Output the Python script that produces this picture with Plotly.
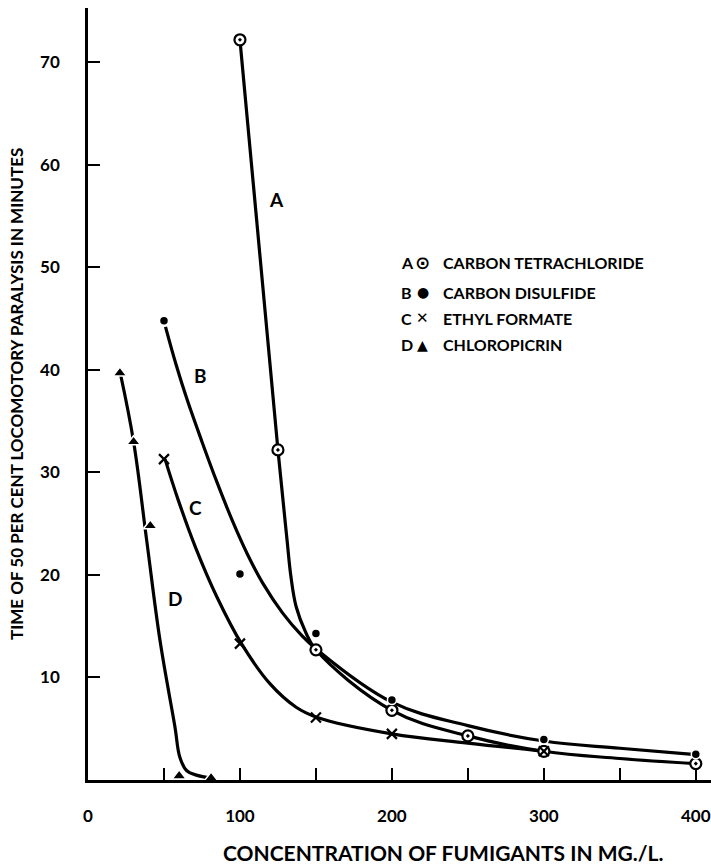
import plotly.graph_objects as go

# Observed points: concentration (mg/L) vs. time to 50% paralysis (min)
a_x = [100, 125, 150, 200, 250, 300, 400]
a_y = [72.2, 32.2, 12.7, 6.8, 4.3, 2.8, 1.6]
b_x = [50, 100, 150, 200, 300, 400]
b_y = [44.8, 20.1, 14.3, 7.8, 3.95, 2.5]
c_x = [50, 100, 150, 200, 300]
c_y = [31.3, 13.3, 6.1, 4.5, 2.8]
d_x = [21, 30, 41, 60, 81]
d_y = [39.7, 33.0, 24.8, 0.4, 0.2]

# Hand-drawn smooth curves through each set of points
a_curve_x = [100, 125, 131, 133.5, 137, 143, 150, 200, 250, 300, 350, 400]
a_curve_y = [72.2, 32.2, 23.4, 19.9, 16.9, 14.5, 12.7, 6.8, 4.3, 2.8, 2.1, 1.6]
b_curve_x = [51, 58, 65, 75, 85, 95, 105, 115, 128, 140, 150, 200, 250, 300, 350, 398]
b_curve_y = [44.2, 40.5, 37.2, 33.0, 29.0, 25.3, 22.0, 19.2, 16.3, 14.2, 12.8,
             7.6, 5.3, 3.8, 3.1, 2.5]
c_curve_x = [50.7, 59.4, 71, 85, 101, 119.7, 137, 150.9, 200, 250, 300]
c_curve_y = [31.3, 27.3, 22.6, 17.8, 13.3, 9.4, 7.1, 6.1, 4.5, 3.6, 2.8]
d_curve_x = [21.5, 30, 38.6, 47.4, 57.2, 60.5, 65, 72, 80]
d_curve_y = [39.5, 33.0, 23.4, 13.6, 5.2, 2.2, 0.9, 0.45, 0.2]

curve_letters = ["A", "B", "C", "D"]
curve_letter_x = [124, 74, 71, 57.2]
curve_letter_y = [56.6, 39.5, 26.6, 17.7]

legend_letters = ["A", "B", "C", "D"]
legend_symbols = ["\u2299", "\u25cf", "\u2715", "\u25b2"]
legend_symbol_sizes = [18, 14, 15, 14]
legend_names = ["CARBON TETRACHLORIDE", "CARBON DISULFIDE", "ETHYL FORMATE", "CHLOROPICRIN"]

x_tick_vals = [0, 50, 100, 150, 200, 250, 300, 350, 400]
x_tick_text = ["0", "", "100", "", "200", "", "300", "", "400"]
y_tick_vals = [10, 20, 30, 40, 50, 60, 70]

FONT = "Lato"
INK = "black"

fig = go.Figure()

for cx, cy in [(a_curve_x, a_curve_y), (b_curve_x, b_curve_y),
               (c_curve_x, c_curve_y), (d_curve_x, d_curve_y)]:
    fig.add_trace(go.Scatter(
        x=cx, y=cy, mode="lines",
        line=dict(color=INK, width=3.2, shape="spline", smoothing=1.1),
        hoverinfo="skip", showlegend=False))

# Markers
fig.add_trace(go.Scatter(
    x=a_x, y=a_y, mode="markers", showlegend=False,
    marker=dict(symbol="circle-dot", size=11, color="white",
                line=dict(color=INK, width=2.2))))
fig.add_trace(go.Scatter(
    x=b_x, y=b_y, mode="markers", showlegend=False,
    marker=dict(symbol="circle", size=9, color=INK,
                line=dict(color="white", width=1.5))))
fig.add_trace(go.Scatter(
    x=c_x, y=c_y, mode="markers", showlegend=False,
    marker=dict(symbol="x-thin", size=10, color=INK,
                line=dict(color=INK, width=2.2))))
fig.add_trace(go.Scatter(
    x=d_x, y=d_y, mode="markers", showlegend=False,
    marker=dict(symbol="triangle-up", size=12, color=INK,
                line=dict(color="white", width=1.5))))

annotations = []
for t, x, y in zip(curve_letters, curve_letter_x, curve_letter_y):
    annotations.append(dict(x=x, y=y, xref="x", yref="y", text=t, showarrow=False,
                            font=dict(family=FONT, size=19, color=INK, weight="bold")))

legend_rows_y = [0.6697, 0.6321, 0.5984, 0.5635]
for letter, sym, ssize, name, py in zip(legend_letters, legend_symbols, legend_symbol_sizes,
                                        legend_names, legend_rows_y):
    annotations.append(dict(x=0.4992, y=py, xref="paper", yref="paper", text=letter,
                            xanchor="left", yanchor="middle", showarrow=False,
                            font=dict(family=FONT, size=16, color=INK, weight="bold")))
    annotations.append(dict(x=0.5377, y=py, xref="paper", yref="paper", text=sym,
                            xanchor="center", yanchor="middle", showarrow=False,
                            font=dict(family="DejaVu Sans", size=ssize, color=INK,
                                      weight="bold")))
    annotations.append(dict(x=0.5666, y=py, xref="paper", yref="paper", text=name,
                            xanchor="left", yanchor="middle", showarrow=False,
                            font=dict(family=FONT, size=16, color=INK, weight="bold")))

annotations.append(dict(
    x=-0.1156, y=0.5, xref="paper", yref="paper", textangle=-90,
    text="TIME OF 50 PER CENT LOCOMOTORY PARALYSIS IN MINUTES",
    xanchor="center", yanchor="middle", showarrow=False,
    font=dict(family=FONT, size=17, color=INK, weight="bold")))
annotations.append(dict(
    x=0.57, y=-0.0933, xref="paper", yref="paper",
    text="CONCENTRATION OF FUMIGANTS IN MG./L.",
    xanchor="center", yanchor="middle", showarrow=False,
    font=dict(family=FONT, size=21, color=INK, weight="bold")))

fig.update_layout(
    width=711, height=865,
    margin=dict(l=88, r=0, t=8, b=85, pad=0),
    paper_bgcolor="white", plot_bgcolor="white",
    showlegend=False,
    annotations=annotations,
    xaxis=dict(range=[0, 410], showgrid=False, zeroline=False,
               showline=True, linecolor=INK, linewidth=2.5,
               ticks="inside", ticklen=12, tickwidth=2, tickcolor=INK,
               tickvals=x_tick_vals, ticktext=x_tick_text,
               ticklabelstandoff=19,
               tickfont=dict(family=FONT, size=17, color=INK, weight="bold")),
    yaxis=dict(range=[0, 75.3], showgrid=False, zeroline=False,
               showline=True, linecolor=INK, linewidth=2.5,
               ticks="inside", ticklen=12, tickwidth=2, tickcolor=INK,
               tickvals=y_tick_vals, ticklabelstandoff=22,
               tickfont=dict(family=FONT, size=17, color=INK, weight="bold")),
)

fig.write_html("out.html")
